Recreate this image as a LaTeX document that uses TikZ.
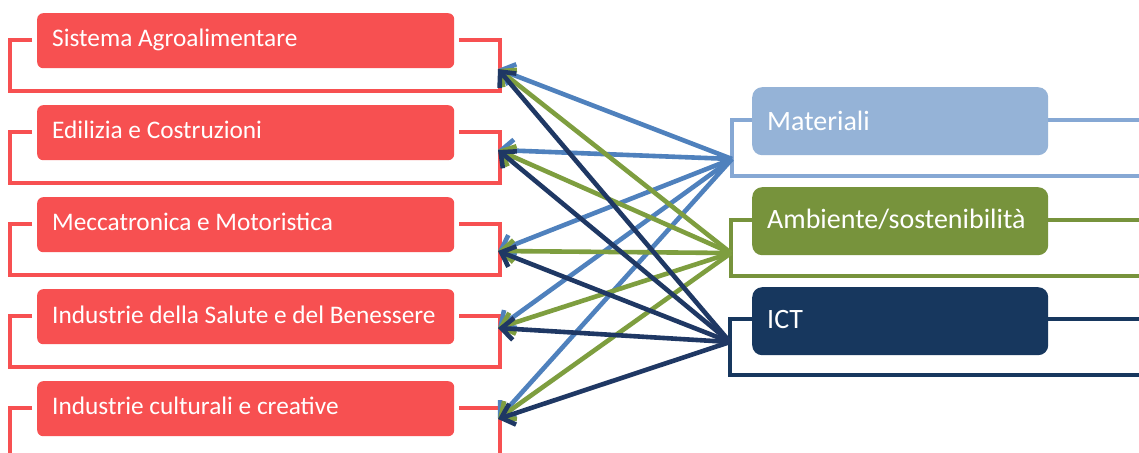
\documentclass[tikz,border=0pt]{standalone}
\usepackage{fontspec}
\setmainfont{Carlito}
\usetikzlibrary{arrows.meta}
\definecolor{redbox}{HTML}{F75051}
\definecolor{matbox}{HTML}{95B3D7}
\definecolor{matline}{HTML}{86A8D4}
\definecolor{matarr}{HTML}{4F81BD}
\definecolor{ambbox}{HTML}{77933C}
\definecolor{ambarr}{HTML}{7E9E3F}
\definecolor{ictbox}{HTML}{17375E}
\definecolor{ictarr}{HTML}{1F3864}
\tikzset{
  sector/.style={fill=redbox, rounded corners=6pt, minimum width=417pt, minimum height=55pt, anchor=north west, inner sep=0pt},
  sectortxt/.style={text=white, anchor=base west, inner sep=0pt, font=\fontsize{25.3}{28}\selectfont},
  tech/.style={rounded corners=10pt, minimum width=296pt, minimum height=68pt, anchor=north west, inner sep=0pt},
  techtxt/.style={text=white, anchor=base west, inner sep=0pt, font=\fontsize{28}{32}\selectfont},
  bracket/.style={line width=4.2pt},
  link/.style={line width=4.6pt, -{Straight Barb[length=12pt,width=22pt,line width=4.6pt]}}
}
\begin{document}
\begin{tikzpicture}[x=1pt,y=-1pt]
\useasboundingbox (0,0) rectangle (1139,452);
\fill[white] (0,0) rectangle (1139,452);
% red brackets
\foreach \t in {13,105,197,289,381}{
  \draw[bracket, redbox] (32,\t+27) -- (10,\t+27) -- (10,\t+78) -- (500,\t+78) -- (500,\t+27) -- (459,\t+27);
}
% red boxes
\node[sector] (s1) at (37,13) {};
\node[sector] (s2) at (37,105) {};
\node[sector] (s3) at (37,197) {};
\node[sector] (s4) at (37,289) {};
\node[sector] (s5) at (37,381) {};
\node[sectortxt] (l1) at (52,46) {Sistema Agroalimentare};
\node[sectortxt] (l2) at (52,138) {Edilizia e Costruzioni};
\node[sectortxt] (l3) at (52,230) {Meccatronica e Motoristica};
\node[sectortxt] (l4) at (52,323) {Industrie della Salute e del Benessere};
\node[sectortxt] (l5) at (52,414) {Industrie culturali e creative};
% right brackets
\draw[bracket, matline] (752,120) -- (732,120) -- (732,176) -- (1145,176);
\draw[bracket, matline] (1048,120) -- (1145,120);
\draw[bracket, ambbox] (752,220) -- (731,220) -- (731,276) -- (1145,276);
\draw[bracket, ambbox] (1048,220) -- (1145,220);
\draw[bracket, ictbox] (752,319) -- (730,319) -- (730,375) -- (1145,375);
\draw[bracket, ictbox] (1048,319) -- (1145,319);
% right boxes
\node[tech, fill=matbox] (mat) at (752,87) {};
\node[tech, fill=ambbox] (amb) at (752,187) {};
\node[tech, fill=ictbox] (ict) at (752,287) {};
\node[techtxt] (lm) at (767,130) {Materiali};
\node[techtxt] (la) at (767,228) {Ambiente/sostenibilità};
\node[techtxt] (li) at (767,328) {ICT};
% sources and targets
\coordinate (sm) at (732,159);
\coordinate (sa) at (731,253);
\coordinate (si) at (730,342);
\coordinate (t1) at (498,69);
\coordinate (t2) at (498,150);
\coordinate (t3) at (498,251);
\coordinate (t4) at (498,328);
\coordinate (t5) at (498,419);
% arrows
\foreach \t in {t1,t2,t3,t4,t5}{ \draw[link, matarr] (sm) -- (\t); }
\foreach \t in {t1,t2,t3,t4,t5}{ \draw[link, ambarr] (sa) -- (\t); }
\foreach \t in {t1,t2,t3,t4,t5}{ \draw[link, ictarr] (si) -- (\t); }
\end{tikzpicture}
\end{document}
